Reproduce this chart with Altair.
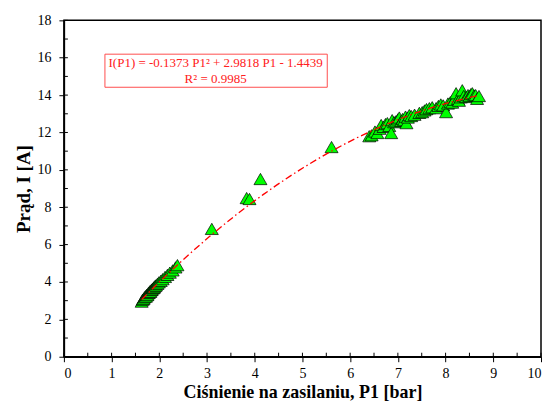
import altair as alt
import pandas as pd

p1_low = [1.63, 1.65, 1.67, 1.69, 1.71, 1.72, 1.74, 1.75, 1.77, 1.78, 1.80, 1.81, 1.83, 1.84,
          1.86, 1.88, 1.89, 1.91, 1.93, 1.96, 1.99, 2.03, 2.07, 2.12, 2.17, 2.22, 2.28, 2.34, 2.38]
i_low = [2.95, 3.05, 3.10, 3.18, 3.24, 3.22, 3.32, 3.30, 3.40, 3.42, 3.50, 3.47, 3.56, 3.58,
         3.65, 3.68, 3.72, 3.78, 3.82, 3.90, 3.98, 4.06, 4.15, 4.27, 4.38, 4.50, 4.62, 4.78, 4.90]

p1_mid = [3.10, 3.83, 3.89, 4.12, 5.61]
i_mid = [6.84, 8.49, 8.44, 9.51, 11.22]

p1_high = [6.40, 6.45, 6.52, 6.57, 6.62, 6.65, 6.70, 6.74, 6.78, 6.82, 6.86, 6.88, 6.92, 6.96,
           7.00, 7.03, 7.07, 7.10, 7.13, 7.16, 7.18, 7.21, 7.24, 7.28, 7.35, 7.45, 7.51, 7.56,
           7.60, 7.66, 7.72, 7.80, 7.85, 7.90, 7.95, 8.01, 8.05, 8.10, 8.14, 8.18, 8.22, 8.26,
           8.28, 8.32, 8.35, 8.38, 8.43, 8.47, 8.50, 8.53, 8.56, 8.60, 8.63, 8.66, 8.70]
i_high = [11.80, 11.85, 12.05, 11.97, 12.20, 12.40, 12.30, 12.45, 12.50, 12.35, 11.97, 12.66, 12.55, 12.60,
          12.70, 12.80, 12.62, 12.72, 12.66, 12.85, 12.50, 12.80, 12.93, 12.88, 12.95, 13.05, 13.09, 13.18,
          13.25, 13.30, 13.35, 13.30, 13.42, 13.50, 13.45, 13.09, 13.55, 13.62, 13.60, 13.75, 14.10, 13.80,
          13.70, 13.88, 14.26, 13.95, 13.90, 14.00, 13.95, 14.05, 14.10, 13.98, 14.00, 13.80, 13.95]

x_ticks = list(range(0, 11))
y_ticks = list(range(0, 19, 2))
x_minor = [k * 0.5 for k in range(21)]
y_minor = list(range(0, 19))

x_title = "Ciśnienie na zasilaniu, P1 [bar]"
y_title = "Prąd, I [A]"
eq_line1 = "I(P1) = -0.1373 P1² + 2.9818 P1 - 1.4439"
eq_line2 = "R² = 0.9985"
box_x = [0.86, 5.52]
box_y = [14.42, 16.19]
text_x = [3.18, 3.18]
text_y = [15.71, 14.85]

FONT = "Liberation Serif"
W, H = 478, 337

df = pd.DataFrame({"P1": p1_low + p1_mid + p1_high, "I": i_low + i_mid + i_high})

xs = alt.Scale(domain=[0, 10], nice=False, zero=False)
ys = alt.Scale(domain=[0, 18], nice=False, zero=False)
axis_style = dict(
    grid=False, domainColor="black", domainWidth=1.5, tickColor="black", tickWidth=1,
    tickSize=5, labelFont=FONT, labelFontSize=14, labelColor="black",
    titleFont=FONT, titleFontWeight="bold", titleColor="black",
)
xax = alt.Axis(values=x_ticks, title=x_title, labelPadding=5, titlePadding=3,
               titleFontSize=18, **axis_style)
yax = alt.Axis(values=y_ticks, title=y_title, labelPadding=8, titlePadding=3,
               titleFontSize=19, **axis_style)

base = alt.Chart(df)

points = base.mark_point(
    shape="triangle-up", filled=True, fill="#00ff00", stroke="#000000",
    strokeWidth=0.7, size=170, opacity=1
).encode(
    x=alt.X("P1:Q", scale=xs, axis=xax),
    y=alt.Y("I:Q", scale=ys, axis=yax),
)

fit = base.transform_regression("P1", "I", method="poly", order=2).mark_line(
    color="#ff0000", strokeWidth=1.3, strokeDash=[7, 3, 1.5, 3]
).encode(
    x=alt.X("P1:Q", scale=xs, axis=xax),
    y=alt.Y("I:Q", scale=ys, axis=yax),
)

xminor_df = pd.DataFrame({"xm": x_minor})
yminor_df = pd.DataFrame({"ym": y_minor})

xminor = alt.Chart(xminor_df).mark_rule(color="black", strokeWidth=1).encode(
    x=alt.X("xm:Q", scale=xs, axis=xax),
    y=alt.value(H - 4), y2=alt.value(H),
)
yminor = alt.Chart(yminor_df).mark_rule(color="black", strokeWidth=1).encode(
    y=alt.Y("ym:Q", scale=ys, axis=yax),
    x=alt.value(0), x2=alt.value(4),
)

box_df = pd.DataFrame({"x1": [box_x[0]], "x2": [box_x[1]], "y1": [box_y[0]], "y2": [box_y[1]]})
box = alt.Chart(box_df).mark_rect(fill="white", stroke="#ff4d4d", strokeWidth=1).encode(
    x=alt.X("x1:Q", scale=xs, axis=xax), x2="x2:Q",
    y=alt.Y("y1:Q", scale=ys, axis=yax), y2="y2:Q",
)

txt_df = pd.DataFrame({"tx": text_x, "ty": text_y, "t": [eq_line1, eq_line2]})
txt = alt.Chart(txt_df).mark_text(
    font=FONT, fontSize=13, color="#ff2020", align="center", baseline="middle"
).encode(
    x=alt.X("tx:Q", scale=xs, axis=xax),
    y=alt.Y("ty:Q", scale=ys, axis=yax),
    text="t:N",
)

chart = alt.layer(points, fit, xminor, yminor, box, txt).properties(
    width=W, height=H,
    autosize=alt.AutoSizeParams(type="none"),
    padding={"left": 56, "top": 12, "right": 2, "bottom": 51},
).configure_view(
    stroke="black", strokeWidth=1.5
).configure_axis(
    labelFont=FONT, titleFont=FONT,
)

chart.save("out.html", embed_options={"renderer": "svg", "actions": False})
